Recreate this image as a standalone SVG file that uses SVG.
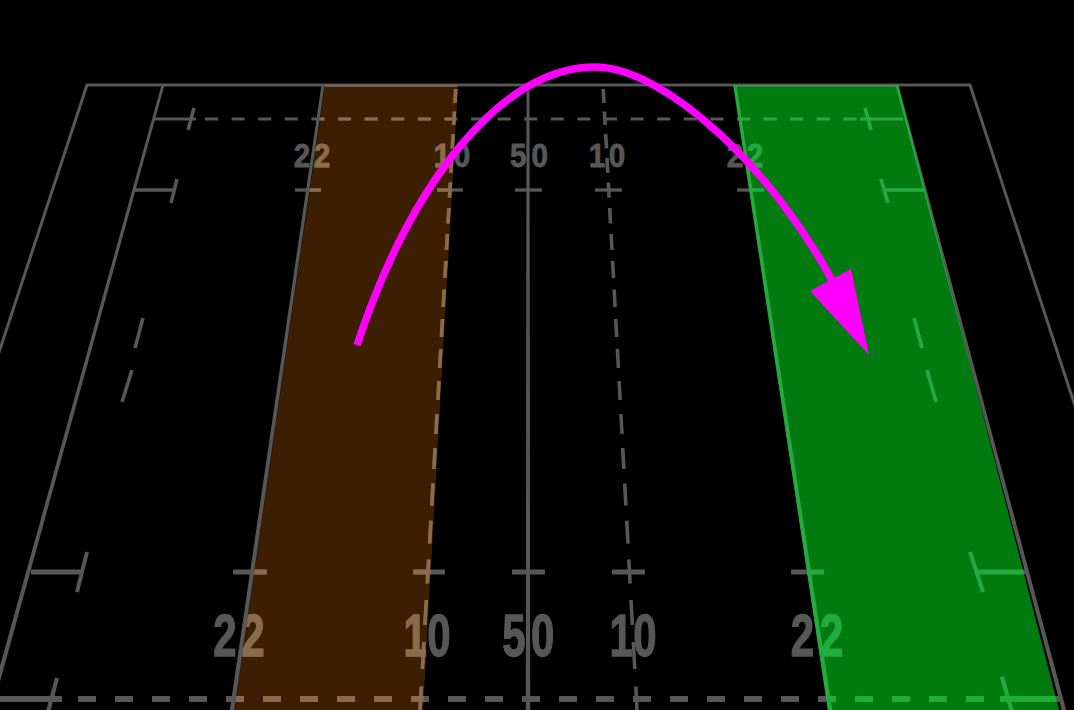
<svg xmlns="http://www.w3.org/2000/svg" xmlns:xlink="http://www.w3.org/1999/xlink" width="1074" height="710" viewBox="0 0 1074 710">
<style>
.ln{fill:none;stroke:currentColor;stroke-width:3.6}
.fl{fill:currentColor;stroke:none}
.h1{stroke-width:3}
.h2{stroke-width:3.3}
.h3{stroke-width:5}
.h4{stroke-width:5.8}
.dh1{stroke-dasharray:13 13.6}
.dh2{stroke-dasharray:18 19}
.lab{fill:currentColor;stroke:currentColor;font-family:"Liberation Sans",Arial,sans-serif;font-weight:bold;text-anchor:middle}
.sm{font-size:33px;stroke-width:0.8}
.bg{font-size:60px;stroke-width:1.4}
</style>
<defs>
<clipPath id="clipBrown"><polygon points="325,85 458,85 423,710 234.5,710"/></clipPath>
<clipPath id="clipGreen"><polygon points="733,85 898,85 1059,710 828,710"/></clipPath>
<g id="field">
<g class="fl">
<polygon points="161.5,85 164.5,85 -7.8,710 -12.2,710"/>
<polygon points="321.5,85 324.5,85 234.2,710 229.8,710"/>
<polygon points="526.5,85 529.5,85 530.2,710 525.8,710"/>
<polygon points="733.5,85 736.5,85 832.2,710 827.8,710"/>
<polygon points="895.5,85 898.5,85 1066.2,710 1061.8,710"/>
</g>
<g class="ln">
<polyline class="h1" points="-20,410 87,85 970,85 1180,727"/>
<path d="M455.8,89L455,103M454.5,111.5L453.7,125M453.2,134L452.3,148.5M451.8,158L450.9,173M450.4,182.5L449.5,197.6M448.9,208L448,223.5M447.4,234L446.5,250M445.9,261L444.9,278M444.2,289.5L443.2,307M442.5,319L441.5,337M440.8,349L439.7,368M439,381L437.9,400M437,414L435.9,434M435.1,448L433.9,469M433,483.5L431.8,505.6M430.9,520.6L429.6,543.7M428.7,559.4L427.3,583.5M426.3,600L424.9,625M423.9,642L422.4,669M421.4,686.5L420,710"/>
<path d="M603.2,89L604,103M604.4,111.5L605.2,125M605.7,134L606.5,148.5M607,158L607.8,173M608.3,182.5L609.1,197.6M609.7,208L610.5,223.5M611.1,234L612,250M612.6,261L613.5,278M614.1,289.5L615.1,307M615.7,319L616.7,337M617.4,349L618.4,368M619.1,381L620.1,400M620.9,414L622,434M622.7,448L623.9,469M624.7,483.5L625.9,505.6M626.7,520.6L628,543.7M628.8,559.4L630.1,583.5M631,600L632.4,625M633.3,642L634.8,669M635.8,686.5L637,710"/>
<!-- 5m line y=119 -->
<line class="h1" x1="153" y1="119" x2="196" y2="119"/>
<line x1="194" y1="108" x2="188" y2="130"/>
<line class="h1 dh1" x1="205" y1="119" x2="858" y2="119"/>
<line class="h1" x1="860" y1="119" x2="903" y2="119"/>
<line x1="865" y1="108" x2="871" y2="130"/>
<!-- 15m y=190 -->
<g class="h2">
<line x1="134" y1="190" x2="175" y2="190"/>
<line x1="295" y1="190" x2="321" y2="190"/>
<line x1="437" y1="190" x2="463" y2="190"/>
<line x1="515" y1="190" x2="542" y2="190"/>
<line x1="595" y1="190" x2="622" y2="190"/>
<line x1="737" y1="190" x2="764" y2="190"/>
<line x1="886" y1="190" x2="925" y2="190"/>
</g>
<line x1="177" y1="179" x2="171" y2="203"/>
<line x1="881" y1="179" x2="888" y2="203"/>
<!-- 15m y=572 -->
<g class="h3">
<line x1="31" y1="572" x2="82" y2="572"/>
<line x1="233" y1="572" x2="267" y2="572"/>
<line x1="413" y1="572" x2="445" y2="572"/>
<line x1="512" y1="572" x2="545" y2="572"/>
<line x1="612" y1="572" x2="645" y2="572"/>
<line x1="791" y1="572" x2="824" y2="572"/>
<line x1="977" y1="572" x2="1027" y2="572"/>
</g>
<line x1="87" y1="552" x2="77" y2="592" stroke-width="4"/>
<line x1="970" y1="552" x2="983" y2="592" stroke-width="4"/>
<!-- 5m y=699 -->
<g class="h4">
<line x1="-2" y1="699" x2="62" y2="699"/>
<line class="dh2" x1="78" y1="699" x2="998" y2="699"/>
<line x1="1000" y1="699" x2="1062" y2="699"/>
</g>
<line x1="57" y1="678" x2="48" y2="712" stroke-width="4.2"/>
<line x1="1002" y1="677" x2="1012" y2="712" stroke-width="4.2"/>
<!-- 5m dashes near try lines -->
<line x1="143" y1="318" x2="135" y2="348"/>
<line x1="132" y1="370" x2="122" y2="402"/>
<line x1="914" y1="318" x2="922" y2="348"/>
<line x1="927" y1="370" x2="936" y2="402"/>
</g>
<text class="lab sm" transform="translate(312,167) scale(0.9,1)" x="-11 11">22</text>
<text class="lab sm" transform="translate(452,167) scale(0.9,1)" x="-11 11">10</text>
<text class="lab sm" transform="translate(529,167) scale(0.9,1)" x="-12 12">50</text>
<text class="lab sm" transform="translate(607,167) scale(0.9,1)" x="-11 11">10</text>
<text class="lab sm" transform="translate(745,167) scale(0.9,1)" x="-11 11">22</text>
<text class="lab bg" transform="translate(239,656) scale(0.7,1)" x="-20 20">22</text>
<text class="lab bg" transform="translate(427,656) scale(0.7,1)" x="-17 17">10</text>
<text class="lab bg" transform="translate(528,656) scale(0.7,1)" x="-20 21">50</text>
<text class="lab bg" transform="translate(633,656) scale(0.7,1)" x="-17 17">10</text>
<text class="lab bg" transform="translate(817,656) scale(0.7,1)" x="-21 21">22</text>
</g>
</defs>
<rect x="0" y="0" width="1074" height="710" fill="#000"/>
<polygon points="325,85 458,85 423,710 234.5,710" fill="#3c1f02"/>
<polygon points="733,85 898,85 1059,710 828,710" fill="#017a0f"/>
<use xlink:href="#field" href="#field" color="#575757"/>
<use xlink:href="#field" href="#field" color="#8c6b4a" clip-path="url(#clipBrown)"/>
<use xlink:href="#field" href="#field" color="#1fae3c" clip-path="url(#clipGreen)"/>
<g id="kick">
<path d="M357,345 C410,185 500,67 595,67 C665,67 775,170 836,288" fill="none" stroke="#ff00ff" stroke-width="7.5"/>
<polygon points="810,291 851,269 869,355" fill="#ff00ff"/>
</g>
</svg>
